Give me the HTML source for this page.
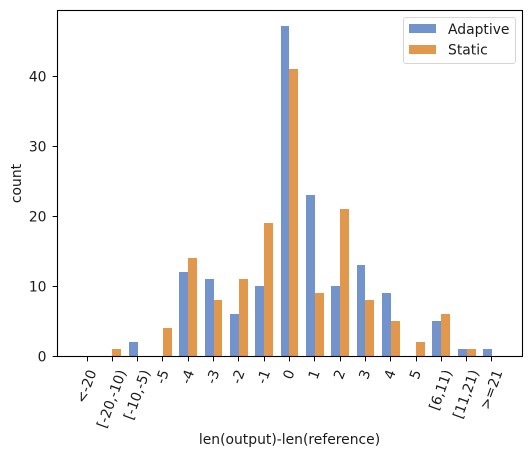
<!DOCTYPE html>
<html>
<head>
<meta charset="utf-8">
<style>
html,body{margin:0;padding:0;background:#fff;width:531px;height:457px;overflow:hidden}
svg{display:block}
text{font-family:"DejaVu Sans","Liberation Sans",sans-serif;font-size:13.9px;fill:#1a1a1a}
</style>
</head>
<body>
<svg id="chart" width="531" height="457" viewBox="0 0 531 457" xmlns="http://www.w3.org/2000/svg"></svg>
<script>
const categories = ["<-20","[-20,-10)","[-10,-5)","-5","-4","-3","-2","-1","0","1","2","3","4","5","[6,11)","[11,21)",">=21"];
const adaptiveValues = [0,0,2,0,12,11,6,10,47,23,10,13,9,0,5,1,1];
const staticValues = [0,1,0,4,14,8,11,19,41,9,21,8,5,2,6,1,0];
const yTicks = [0,10,20,30,40];
const seriesNames = ["Adaptive","Static"];

const NS = "http://www.w3.org/2000/svg";
const svg = document.getElementById("chart");
const plot = {left:57.5, right:522.5, top:10.5, bottom:356.5};
const xStart = 87.0, xStep = 25.31, barW = 8.86;
const colors = ["#7293cb","#e1974c"];
const xScale = i => xStart + i * xStep;
const yScale = v => plot.bottom - v * 7;
const barTop = v => Math.round(356.4 - v * 7.02);

function make(tag, attrs, parent) {
  const el = document.createElementNS(NS, tag);
  for (const k in attrs) el.setAttribute(k, attrs[k]);
  (parent || svg).appendChild(el);
  return el;
}

categories.forEach((c, i) => {
  const x0 = Math.round(xScale(i) - barW);
  const x1 = Math.round(xScale(i));
  const x2 = Math.round(xScale(i) + barW);
  const a = make("rect", {x: x0, y: barTop(adaptiveValues[i]), width: x1 - x0, height: 356 - barTop(adaptiveValues[i]), fill: colors[0]});
  
  
  const s = make("rect", {x: x1, y: barTop(staticValues[i]), width: x2 - x1, height: 356 - barTop(staticValues[i]), fill: colors[1]});
  
  
});

const frame = make("rect", {x: plot.left, y: plot.top, width: plot.right - plot.left, height: plot.bottom - plot.top, fill: "none", stroke: "#000", "stroke-width": 1.1});



yTicks.forEach(v => {
  const y = Math.round(yScale(v) - 0.5) + 0.5;
  const t = make("line", {x1: plot.left - 4.9, x2: plot.left, y1: y, y2: y, stroke: "#000", "stroke-width": 1});
  
  
  const l = make("text", {x: 46.5, y: y + 5, "text-anchor": "end"});
  l.textContent = v;
  
  
});

const angle = 70 * Math.PI / 180;
categories.forEach((c, i) => {
  const x = xScale(i);
  const rx = Math.round(x - 0.5) + 0.5;
  const t = make("line", {x1: rx, x2: rx, y1: plot.bottom, y2: plot.bottom + 4.9, stroke: "#000", "stroke-width": 1});
  
  
  const l = make("text", {x: 0, y: 0, "text-anchor": "middle"});
  l.textContent = c;
  
  
  const w = l.getComputedTextLength();
  const h = 13.9;
  const halfH = (w * Math.sin(angle) + h * Math.cos(angle)) / 2;
  const cy = 368 + halfH;
  l.setAttribute("transform", `translate(${x - 0.5} ${cy}) rotate(-70) translate(0 4.5)`);
});

const xTitle = make("text", {x: 289.5, y: 444, "text-anchor": "middle"});
xTitle.textContent = "len(output)-len(reference)";



const yTitle = make("text", {"text-anchor": "middle", transform: "translate(21 183.5) rotate(-90)"});
yTitle.textContent = "count";



const legend = make("g", {});


const box = make("rect", {x: 403.5, y: 17.5, width: 112, height: 46, rx: 2.5, fill: "#fff", "fill-opacity": 0.8, stroke: "#d6d6d6", "stroke-width": 1}, legend);


seriesNames.forEach((n, i) => {
  const y = 24 + i * 21;
  const sw = make("rect", {x: 409, y: y, width: 27, height: 9, fill: colors[i]}, legend);
  
  
  const tx = make("text", {x: 448, y: 34 + i * 20.5}, legend);
  tx.textContent = n;
  
  
});
</script>
</body>
</html>
